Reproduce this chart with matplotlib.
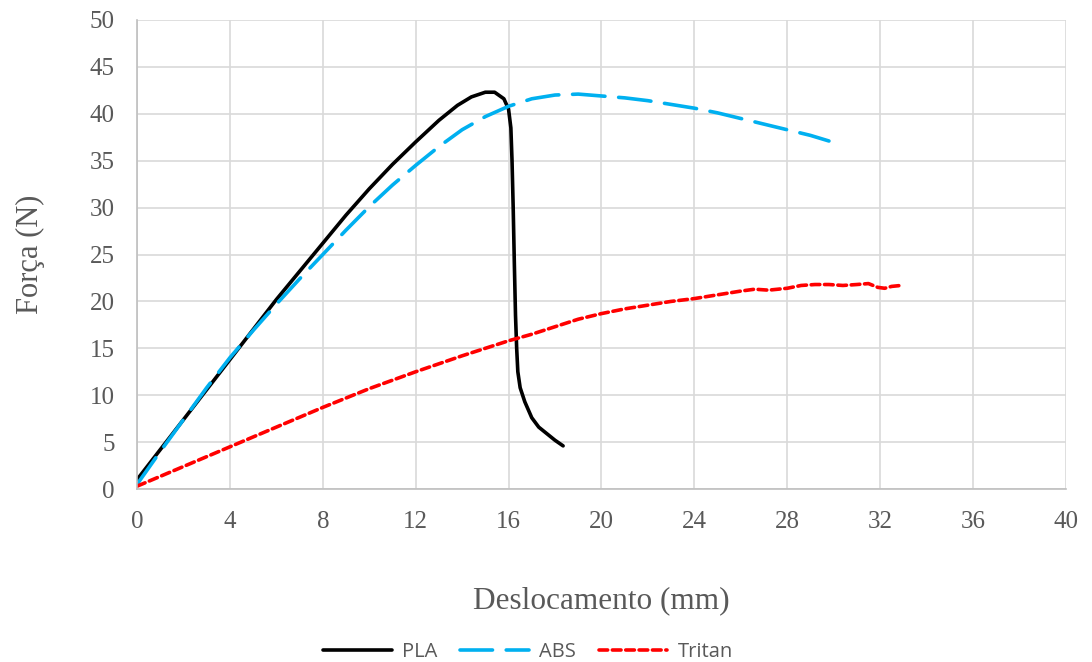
import matplotlib.pyplot as plt

# PLA
pla_x = [0, 0.5, 1, 2, 3, 4, 5, 6, 7, 8, 9, 10, 11, 12, 13, 13.8, 14.4, 15.0, 15.4, 15.8, 16.0,
         16.1, 16.15, 16.2, 16.25, 16.3, 16.35, 16.4, 16.5, 16.7, 17.0, 17.3, 17.7, 18.0, 18.35]
pla_y = [1.0, 2.6, 4.2, 7.4, 10.6, 13.8, 17.0, 20.2, 23.2, 26.2, 29.2, 32.0, 34.6, 37.0, 39.3, 40.9, 41.8, 42.3, 42.3, 41.6, 40.5,
         38.5, 35.0, 30.0, 24.0, 18.5, 15.0, 12.5, 10.8, 9.3, 7.6, 6.6, 5.8, 5.2, 4.6]

# ABS
abs_x = [0, 1, 2, 3, 4, 5, 6, 7, 8, 9, 10, 11, 12, 13, 14, 15, 16, 17, 18, 19, 20, 21, 22, 23, 24, 25, 26, 27, 28, 29, 29.8]
abs_y = [0.5, 4.0, 7.4, 10.8, 14.0, 16.9, 19.7, 22.4, 25.0, 27.6, 30.1, 32.4, 34.5, 36.5, 38.3, 39.7, 40.8, 41.6, 42.0, 42.1, 41.9,
         41.7, 41.4, 41.0, 40.6, 40.1, 39.5, 38.9, 38.3, 37.7, 37.1]

# Tritan
tri_x = [0, 2, 4, 6, 8, 10, 12, 14, 16, 17, 18, 19, 20, 21, 22, 23, 24, 25, 26, 26.6, 27.2, 28, 28.6, 29.2, 29.8,
         30.4, 31.0, 31.5, 31.9, 32.2, 32.5, 32.9]
tri_y = [0.3, 2.4, 4.5, 6.6, 8.7, 10.7, 12.5, 14.2, 15.8, 16.5, 17.3, 18.1, 18.7, 19.2, 19.6, 20.0, 20.3, 20.7, 21.1, 21.3, 21.2, 21.4, 21.7, 21.8, 21.8,
         21.7, 21.8, 21.9, 21.5, 21.4, 21.6, 21.7]

fig = plt.figure(figsize=(10.92, 6.62), dpi=100)
ax = fig.add_axes([0.1255, 0.2613, 0.8505, 0.7085])

ax.plot(pla_x, pla_y, color='black', linewidth=2.6, label='PLA', solid_capstyle='round')
ax.plot(abs_x, abs_y, color='#00b0f0', linewidth=2.6, dashes=(9, 3.8), label='ABS', dash_capstyle='round')
ax.plot(tri_x, tri_y, color='#ff0000', linewidth=2.6, dashes=(2.4, 1.3), label='Tritan', dash_capstyle='round')

ax.set_xlim(0, 40)
ax.set_ylim(0, 50)
ax.set_xticks(range(0, 41, 4))
ax.set_yticks(range(0, 51, 5))
ax.grid(True, color='#d9d9d9', linewidth=1.2)
ax.set_axisbelow(True)
for s in ['top', 'right']:
    ax.spines[s].set_visible(False)
for s in ['left', 'bottom']:
    ax.spines[s].set_color('#bfbfbf')
    ax.spines[s].set_linewidth(1.2)
ax.tick_params(length=0, labelsize=18, colors='#595959')
ax.tick_params(axis='x', pad=16)
ax.tick_params(axis='y', pad=16)
for lab in ax.get_xticklabels() + ax.get_yticklabels():
    lab.set_fontfamily('Liberation Serif')

ax.set_xlabel('Deslocamento (mm)', fontsize=22.5, family='Liberation Serif', color='#595959', labelpad=38)
ax.set_ylabel('Força (N)', fontsize=22, family='Liberation Serif', color='#595959', labelpad=32)

leg = fig.legend(loc='lower center', bbox_to_anchor=(0.4835, -0.028), ncol=3, frameon=False,
                 handlelength=3.4, handletextpad=0.5, columnspacing=1.15, prop={'family': 'Open Sans', 'size': 14.5})
for t in leg.get_texts():
    t.set_color('#595959')

fig.savefig('out.png', dpi=100)
